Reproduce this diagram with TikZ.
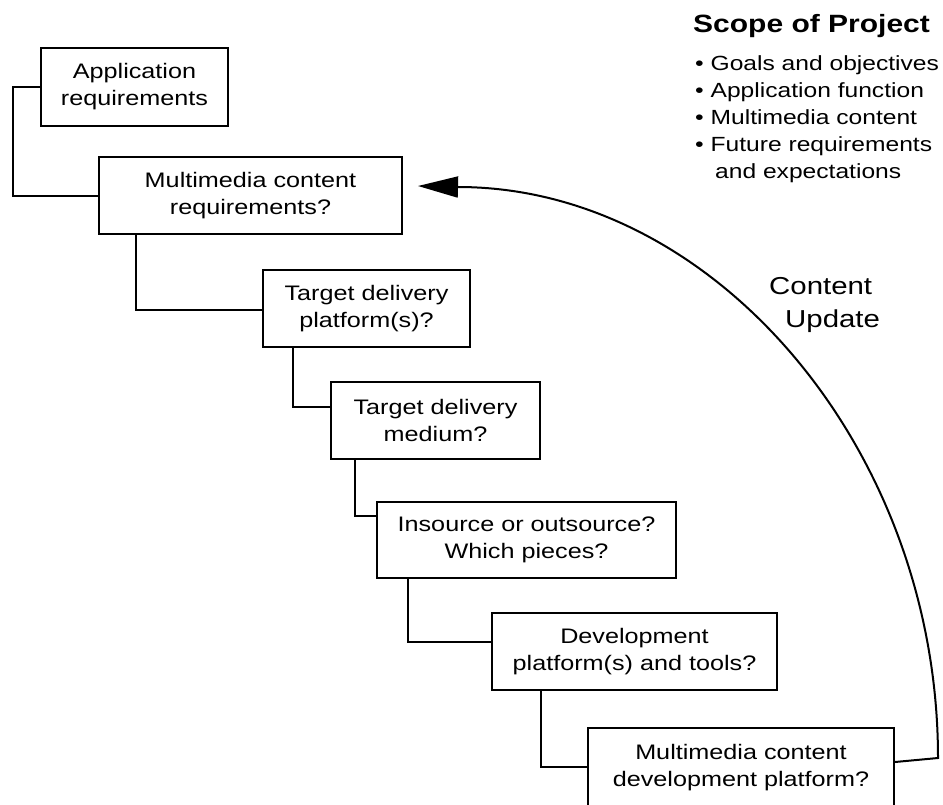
\documentclass[tikz,border=0pt]{standalone}
\usepackage{fontspec}
\setmainfont{Liberation Sans}[FakeStretch=1.2]
\usetikzlibrary{arrows.meta}

\begin{document}
\begin{tikzpicture}[x=1pt, y=-1pt,
  stage/.style={draw, line width=2pt, fill=white, inner sep=0pt,
                align=center, font=\fontsize{21}{27}\selectfont},
  link/.style={line width=2pt},
  loopback/.style={line width=2pt, -{Triangle[length=40pt,width=21pt]}},
  label/.style={inner sep=0pt, align=left}]

\useasboundingbox (0,0) rectangle (943,804);

% --- the staircase of decisions
\node[stage, minimum width=187pt, minimum height=78pt] (b1) at (134.5,87)
  {Application\\requirements};
\node[stage, minimum width=303pt, minimum height=77pt] (b2) at (250.5,195.5)
  {Multimedia content\\requirements?};
\node[stage, minimum width=207pt, minimum height=77pt] (b3) at (366.5,308.5)
  {Target delivery\\platform(s)?};
\node[stage, minimum width=209pt, minimum height=77pt] (b4) at (435.5,420.5)
  {Target delivery\\medium?};
\node[stage, minimum width=299pt, minimum height=76pt] (b5) at (526.5,540)
  {Insource or outsource?\\Which pieces?};
\node[stage, minimum width=285pt, minimum height=77pt] (b6) at (634.5,651.5)
  {Development\\platform(s) and tools?};
\node[stage, minimum width=306pt, minimum height=80pt] (b7) at (741,768)
  {Multimedia content\\development platform?};

% --- elbow connectors between the steps
\draw[link] (b1.west) -- ++(-27,0) |- (b2.west);
\draw[link] ([xshift=38pt]b2.south west) |- ([yshift=-41pt]b3.north west);
\draw[link] ([xshift=31pt]b3.south west) |- ([yshift=-26pt]b4.north west);
\draw[link] ([xshift=25pt]b4.south west) |- ([yshift=-15pt]b5.north west);
\draw[link] ([xshift=32pt]b5.south west) |- ([yshift=-30pt]b6.north west);
\draw[link] ([xshift=50pt]b6.south west) |- ([yshift=-40pt]b7.north west);

% --- content update loop back to the content requirements
\coordinate (turn) at (938,758);
\coordinate (head) at (458,187);
\coordinate (tip)  at (418,186);
\draw[loopback] ([yshift=6pt]b7.east) -- (turn)
  .. controls (938,450) and (715,187) .. (head) -- (tip);

% multi-line labels are placed by the baseline of their last line
\node[label, anchor=base west, font=\fontsize{24.5}{33}\selectfont] (upd) at (769,327)
  {Content\\\hspace*{16pt}Update};

% --- scope notes
\node[label, anchor=base west, font=\fontsize{25}{30}\selectfont\bfseries] (scope) at (693,32)
  {Scope of Project};
\node[label, anchor=base west, font=\fontsize{20.5}{27}\selectfont] (items) at (695,178)
  {• Goals and objectives\\
   • Application function\\
   • Multimedia content\\
   • Future requirements\\
   \hspace*{20pt}and expectations};

\end{tikzpicture}
\end{document}
